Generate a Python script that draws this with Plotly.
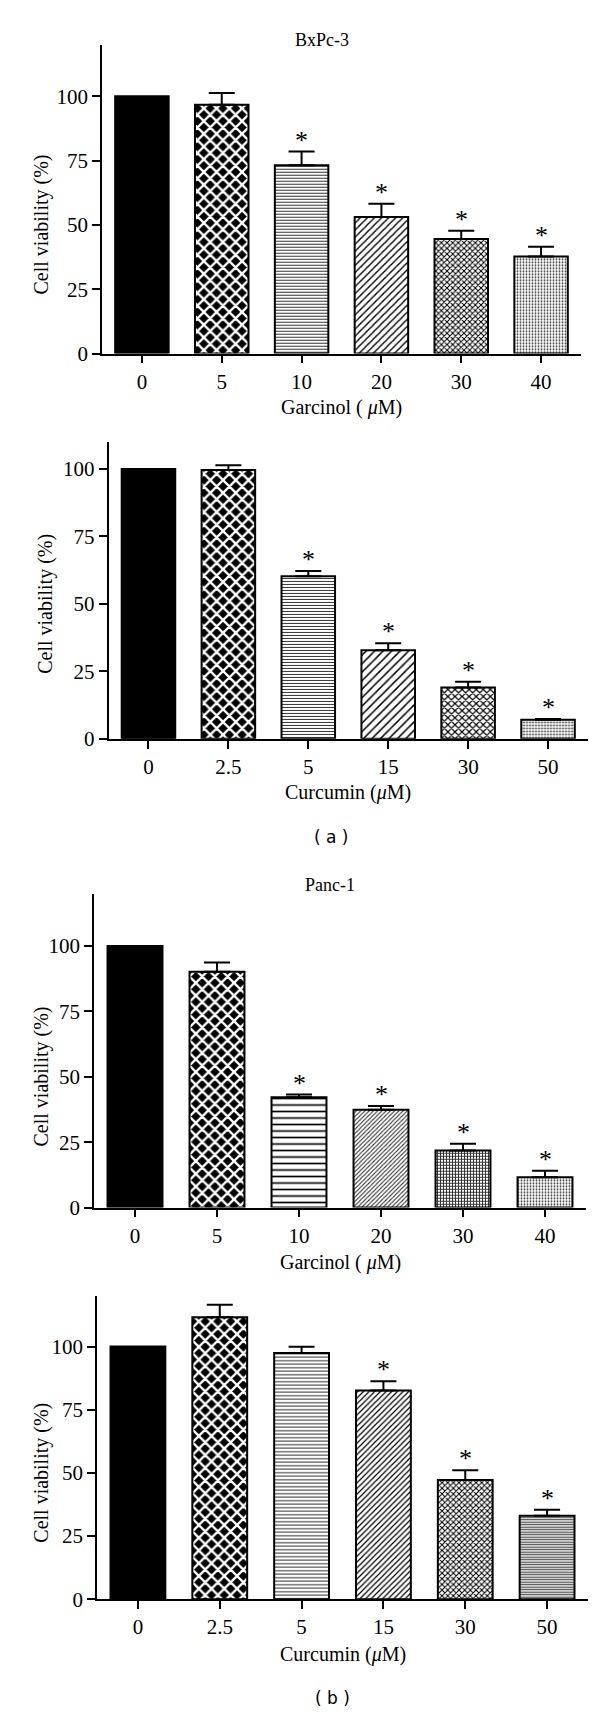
import plotly.graph_objects as go

W, H = 600, 1719

# ---- data ----
garcinol_doses = ["0", "5", "10", "20", "30", "40"]
curcumin_doses = ["0", "2.5", "5", "15", "30", "50"]

bxpc3_garcinol = [100, 96.7, 73.2, 53.1, 44.5, 37.7]
bxpc3_garcinol_err = [0, 4.5, 5.3, 5.1, 3.2, 3.8]
bxpc3_garcinol_sig = [0, 0, 1, 1, 1, 1]

bxpc3_curcumin = [100, 99.6, 60.2, 32.8, 19.0, 7.1]
bxpc3_curcumin_err = [0, 1.8, 2.0, 2.6, 2.2, 0.3]
bxpc3_curcumin_sig = [0, 0, 1, 1, 1, 1]

panc1_garcinol = [100, 90.2, 42.2, 37.4, 21.8, 11.6]
panc1_garcinol_err = [0, 3.5, 1.0, 1.4, 2.6, 2.5]
panc1_garcinol_sig = [0, 0, 1, 1, 1, 1]

panc1_curcumin = [100, 111.6, 97.4, 82.6, 47.2, 33.1]
panc1_curcumin_err = [0, 4.9, 2.5, 3.7, 3.9, 2.3]
panc1_curcumin_sig = [0, 0, 0, 1, 1, 1]

serif = "Liberation Serif"
sans = "DejaVu Sans"

# fill for each bar: (shape, size, solidity, fg, bg)
SOLID = ("", 8, 0.3, "black", "black")
CHECK = ("x", 9, 0.45, "white", "black")   # white crossing lines on black -> check look
pat_a = [SOLID, CHECK, ("-", 3, 0.35, "#333", "white"), ("/", 5, 0.28, "black", "white"),
         ("x", 4, 0.45, "black", "white"), (".", 3, 0.3, "#333", "white")]
pat_b = [SOLID, CHECK, ("-", 3, 0.35, "#333", "white"), ("/", 6, 0.25, "black", "white"),
         ("x", 5, 0.42, "black", "white"), (".", 3, 0.3, "#333", "white")]
pat_c = [SOLID, CHECK, ("-", 6.5, 0.25, "black", "white"), ("/", 3, 0.35, "#333", "white"),
         ("+", 3, 0.5, "#222", "white"), (".", 3, 0.3, "#333", "white")]
pat_d = [SOLID, CHECK, ("-", 3.5, 0.3, "#333", "white"), ("/", 4, 0.3, "black", "white"),
         ("x", 4, 0.45, "black", "white"), ("-", 2.5, 0.5, "#444", "white")]

fig = go.Figure()


def px_x(v):
    return v / W


def px_y(v):
    return 1 - v / H


def add_panel(n, cats, vals, errs, sig, pats, geom, ymax, xtitle, ytitle_pos, xtitle_pos):
    x0, x1, ytop, yzero = geom
    xa = "x" if n == 1 else "x%d" % n
    ya = "y" if n == 1 else "y%d" % n
    for i, (c, v, e) in enumerate(zip(cats, vals, errs)):
        shape, size, solid, fg, bg = pats[i]
        fig.add_trace(go.Bar(
            x=[c], y=[v], xaxis=xa, yaxis=ya, width=0.67,
            marker=dict(color=bg, line=dict(color="black", width=2),
                        pattern=dict(shape=shape, size=size, solidity=solid,
                                     fgcolor=fg, bgcolor=bg, fgopacity=1,
                                     fillmode="replace")),
            error_y=dict(type="data", symmetric=False, array=[e], arrayminus=[0],
                         color="black", thickness=2, width=13, visible=e > 0),
            showlegend=False,
        ))
        if sig[i]:
            fig.add_annotation(x=i, y=v + e, xref=xa, yref=ya, text="*",
                               showarrow=False, yanchor="bottom", yshift=-5,
                               font=dict(family=serif, size=26, color="black"))
    axis_common = dict(ticks="outside", ticklen=8, tickwidth=1.5, tickcolor="black",
                       showline=True, linecolor="black", linewidth=1.5,
                       showgrid=False, zeroline=False,
                       tickfont=dict(family=serif, size=21, color="black"))
    fig.update_layout(**{
        ("xaxis" if n == 1 else "xaxis%d" % n): dict(
            domain=[px_x(x0), px_x(x1)], anchor=ya, type="category",
            categoryorder="array", categoryarray=cats,
            range=[-0.5, 5.5], **axis_common),
        ("yaxis" if n == 1 else "yaxis%d" % n): dict(
            domain=[px_y(yzero), px_y(ytop)], anchor=xa,
            range=[0, ymax], tickvals=[0, 25, 50, 75, 100], **axis_common),
    })
    fig.add_annotation(x=px_x(ytitle_pos[0]), y=px_y(ytitle_pos[1]), xref="paper", yref="paper",
                       text="Cell viability (%)", textangle=-90, showarrow=False,
                       xanchor="center", yanchor="middle",
                       font=dict(family=serif, size=20, color="black"))
    fig.add_annotation(x=px_x(xtitle_pos[0]), y=px_y(xtitle_pos[1]), xref="paper", yref="paper",
                       text=xtitle, showarrow=False, xanchor="center", yanchor="middle",
                       font=dict(family=serif, size=20, color="black"))


add_panel(1, garcinol_doses, bxpc3_garcinol, bxpc3_garcinol_err, bxpc3_garcinol_sig, pat_a,
          (94, 573, 37, 348), 120, "Garcinol ( <i>μ</i>M)", (33, 218), (333.5, 402))
add_panel(2, curcumin_doses, bxpc3_curcumin, bxpc3_curcumin_err, bxpc3_curcumin_sig, pat_b,
          (100.5, 580, 437, 736), 110, "Curcumin (<i>μ</i>M)", (38, 600), (340, 790))
add_panel(3, garcinol_doses, panc1_garcinol, panc1_garcinol_err, panc1_garcinol_sig, pat_c,
          (86, 578, 892, 1208), 120, "Garcinol ( <i>μ</i>M)", (33, 1076), (332, 1263))
add_panel(4, curcumin_doses, panc1_curcumin, panc1_curcumin_err, panc1_curcumin_sig, pat_d,
          (89, 580, 1297, 1602.5), 120, "Curcumin (<i>μ</i>M)", (34, 1475), (334.5, 1658))

# panel titles and sub-figure labels
for txt, (x, y), fam, size in [("BxPc-3", (314, 32), serif, 18),
                               ("Panc-1", (322, 883), serif, 18),
                               ("( a )", (323, 835), sans, 17),
                               ("( b )", (324, 1702), sans, 17)]:
    fig.add_annotation(x=px_x(x), y=px_y(y), xref="paper", yref="paper", text=txt,
                       showarrow=False, xanchor="center", yanchor="middle",
                       font=dict(family=fam, size=size, color="black"))

fig.update_layout(width=W, height=H, margin=dict(l=0, r=0, t=0, b=0),
                  paper_bgcolor="white", plot_bgcolor="white", barmode="overlay")

fig.write_html("out.html")
